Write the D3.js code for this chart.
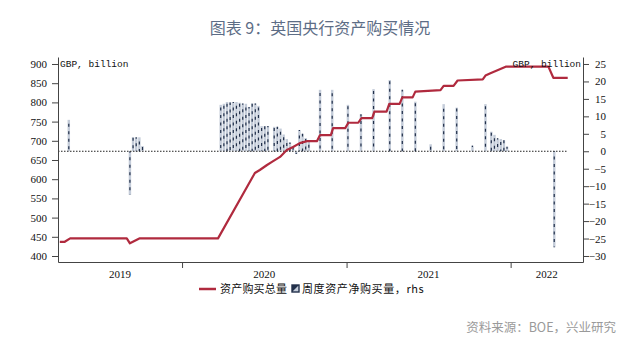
<!DOCTYPE html>
<html>
<head>
<meta charset="utf-8">
<script src="https://cdn.jsdelivr.net/npm/d3@7"></script>
<style>
    body { margin: 0; background: #fff; }
</style>
</head>
<body>
<div id="chart"></div>
<script>
// 资产购买总量 (GBP bn, left axis)
const lineDates = [
    "2019-04-04", "2019-04-15", "2019-04-27", "2019-08-31", "2019-09-07", "2019-09-29",
    "2020-03-21", "2020-06-11", "2020-06-22", "2020-07-08", "2020-07-19", "2020-08-06",
    "2020-08-21", "2020-09-04", "2020-09-19", "2020-10-05", "2020-10-27", "2020-11-03",
    "2020-11-27", "2020-12-02", "2020-12-29", "2021-01-05", "2021-01-27", "2021-02-03",
    "2021-02-27", "2021-03-04", "2021-03-31", "2021-04-06", "2021-04-29", "2021-05-05",
    "2021-05-28", "2021-06-03", "2021-07-29", "2021-08-05", "2021-08-27", "2021-09-05",
    "2021-10-31", "2021-11-06", "2021-11-17", "2021-12-21", "2022-03-26", "2022-04-06",
    "2022-05-08"
];
const lineValues = [
    437, 437, 446, 446, 433, 446,
    446, 616, 624, 637, 645, 658,
    676, 684, 694, 699, 699, 715,
    715, 733, 733, 747, 747, 759,
    759, 776, 776, 796, 796, 813,
    813, 828, 832, 843, 843, 857,
    860, 870, 876, 893, 893, 864,
    864
];

// 周度资产净购买量 (GBP bn, right axis)
const barDates = [
    "2019-04-24", "2019-09-07", "2019-09-14", "2019-09-21", "2019-09-28", "2019-10-05",
    "2020-03-27", "2020-04-03", "2020-04-10", "2020-04-17", "2020-04-24", "2020-05-01",
    "2020-05-08", "2020-05-15", "2020-05-22", "2020-05-29", "2020-06-05", "2020-06-12",
    "2020-06-19", "2020-06-26", "2020-07-03", "2020-07-10", "2020-07-17", "2020-07-24",
    "2020-07-31", "2020-08-07", "2020-08-14", "2020-08-21", "2020-08-28", "2020-09-04",
    "2020-09-11", "2020-09-18", "2020-09-25", "2020-10-02", "2020-10-09",
    "2020-11-03", "2020-11-30", "2021-01-04", "2021-02-02", "2021-03-02", "2021-04-07",
    "2021-05-05", "2021-06-03", "2021-07-07", "2021-08-05", "2021-09-03", "2021-10-08",
    "2021-11-06", "2021-11-19", "2021-11-26", "2021-12-03", "2021-12-10", "2021-12-17",
    "2021-12-24", "2022-04-08"
];
const barValues = [
    9, -12.5, 4, 4, 4, 1.5,
    13.3, 13.6, 14.1, 14.0, 14.1, 14.1,
    13.9, 13.7, 13.6, 12.7, 13.7, 13.7,
    13.0, 7.2, 7.2, 7.2, 0, 7.0,
    7.0, 6.5, 4.8, 3.5, 2.5, 1.5,
    -0.8, 6.1, 5.0, 3.8, 2.7,
    17.6, 17.6, 13.3, 10.6, 17.8, 20.4,
    17.6, 14.2, 2, 13.5, 12.5, 1.6,
    13.5, 5.6, 4.7, 3.7, 3.5, 3.2,
    1.3, -27.5
];

const leftTicks = [400, 450, 500, 550, 600, 650, 700, 750, 800, 850, 900];
const rightTicks = [-30, -25, -20, -15, -10, -5, 0, 5, 10, 15, 20, 25];
const yearBreaks = ["2020-01-01", "2021-01-01", "2022-01-01"];
const yearLabels = ["2019", "2020", "2021", "2022"];

const parse = d3.timeParse("%Y-%m-%d");
const lineData = lineDates.map((d, i) => ({ date: parse(d), value: lineValues[i] }));
const barData = barDates.map((d, i) => ({ date: parse(d), value: barValues[i] }))
    .filter(d => d.value !== 0);

const width = 640;
const height = 352;
const serif = "'Liberation Serif', 'Times New Roman', serif";
const cjk = "'Noto Sans CJK SC', sans-serif";
const mono = "'Liberation Mono', 'DejaVu Sans Mono', monospace";
const barFill = "#c4ccd9";
const barInk = "#22304a";
const lineColor = "#b02a3e";

const svg = d3.select("#chart")
    .append("svg")
    .attr("width", width)
    .attr("height", height);

svg.append("text")
    .attr("x", 320)
    .attr("y", 34)
    .attr("text-anchor", "middle")
    .style("font-family", cjk)
    .style("font-size", "16px")
    .style("fill", "#5d6d86")
    .text("图表 9：英国央行资产购买情况");

const x = d3.scaleTime()
    .domain([parse("2019-03-31"), parse("2022-06-11")])
    .range([58, 583]);

const yLeft = d3.scaleLinear()
    .domain([384.4, 918.2])
    .range([262, 57]);

const yRight = d3.scaleLinear()
    .domain([-31.72, 27.0])
    .range([262, 57]);

// bars
const weekPx = x(parse("2020-01-08")) - x(parse("2020-01-01"));
const barW = weekPx * 0.78;

const bars = svg.append("g");
bars.selectAll("rect")
    .data(barData)
    .enter()
    .append("rect")
    .attr("x", d => x(d.date) - barW / 2)
    .attr("y", d => yRight(Math.max(0, d.value)))
    .attr("width", barW)
    .attr("height", d => Math.abs(yRight(d.value) - yRight(0)))
    .attr("fill", barFill);

// dashes shifted with x so neighbouring bars read as a "/" hatch
bars.selectAll("line")
    .data(barData)
    .enter()
    .append("line")
    .attr("x1", d => x(d.date))
    .attr("x2", d => x(d.date))
    .attr("y1", d => yRight(d.value))
    .attr("y2", d => yRight(0))
    .attr("stroke", barInk)
    .attr("stroke-width", 1.2)
    .attr("stroke-dasharray", "3,4.5")
    .attr("stroke-dashoffset", d => yRight(d.value) + x(d.date) * 0.6);

// zero line
svg.append("line")
    .attr("x1", x.range()[0])
    .attr("x2", x(lineData[lineData.length - 1].date))
    .attr("y1", yRight(0))
    .attr("y2", yRight(0))
    .attr("stroke", "#222")
    .attr("stroke-width", 1)
    .attr("stroke-dasharray", "1.5,1.5");

// total line
svg.append("path")
    .datum(lineData)
    .attr("fill", "none")
    .attr("stroke", lineColor)
    .attr("stroke-width", 2.2)
    .attr("stroke-linejoin", "round")
    .attr("d", d3.line().x(d => x(d.date)).y(d => yLeft(d.value)));

// axes
function styleAxis(g) {
    g.select(".domain").attr("stroke", "#444");
    g.selectAll(".tick line").attr("stroke", "#444");
    g.selectAll(".tick text")
        .style("font-family", serif)
        .style("font-size", "11px")
        .style("fill", "#111");
}

svg.append("g")
    .attr("transform", "translate(58,0)")
    .call(d3.axisLeft(yLeft).tickValues(leftTicks).tickSize(6).tickSizeOuter(0).tickPadding(5))
    .call(styleAxis);

svg.append("g")
    .attr("transform", "translate(583,0)")
    .call(d3.axisRight(yRight).tickValues(rightTicks).tickSize(6).tickSizeOuter(0).tickPadding(3))
    .call(styleAxis)
    .selectAll(".tick text")
    .attr("text-anchor", "end")
    .attr("x", 23);

svg.append("g")
    .attr("transform", "translate(0,262)")
    .call(d3.axisBottom(x).tickValues(yearBreaks.map(parse)).tickSize(6).tickSizeOuter(0).tickFormat(""))
    .call(styleAxis);

const edges = [x.range()[0], ...yearBreaks.map(d => x(parse(d))), x.range()[1]];
svg.append("g")
    .selectAll("text")
    .data(yearLabels)
    .enter()
    .append("text")
    .attr("x", (d, i) => (edges[i] + edges[i + 1]) / 2)
    .attr("y", 278)
    .attr("text-anchor", "middle")
    .style("font-family", serif)
    .style("font-size", "11px")
    .style("fill", "#111")
    .text(d => d);

// unit labels
svg.append("text")
    .attr("x", 60)
    .attr("y", 67)
    .style("font-family", mono)
    .style("font-size", "9.5px")
    .style("fill", "#111")
    .text("GBP, billion");

svg.append("text")
    .attr("x", 581)
    .attr("y", 67)
    .attr("text-anchor", "end")
    .style("font-family", mono)
    .style("font-size", "9.5px")
    .style("fill", "#111")
    .text("GBP, billion");

// legend
const legend = svg.append("g").attr("transform", "translate(199,289)");
legend.append("line")
    .attr("x1", 0).attr("x2", 17)
    .attr("y1", 0).attr("y2", 0)
    .attr("stroke", lineColor)
    .attr("stroke-width", 2.5);
legend.append("text")
    .attr("x", 21)
    .attr("y", 4)
    .style("font-family", cjk)
    .style("font-size", "11px")
    .style("letter-spacing", "0.2px")
    .style("fill", "#111")
    .text("资产购买总量");
legend.append("rect")
    .attr("x", 93).attr("y", -4)
    .attr("width", 7).attr("height", 7)
    .attr("fill", barFill)
    .attr("stroke", barInk)
    .attr("stroke-width", 1.4);
legend.append("path")
    .attr("d", "M93,-4 L100,-4 L93,3 Z")
    .attr("fill", barInk);
legend.append("text")
    .attr("x", 103)
    .attr("y", 4)
    .style("font-family", cjk)
    .style("font-size", "11px")
    .style("letter-spacing", "0.6px")
    .style("fill", "#111")
    .text("周度资产净购买量，rhs");

// source
svg.append("text")
    .attr("x", 616)
    .attr("y", 332)
    .attr("text-anchor", "end")
    .style("font-family", cjk)
    .style("font-size", "12.5px")
    .style("fill", "#9a9a9a")
    .text("资料来源：BOE，兴业研究");
</script>
</body>
</html>
